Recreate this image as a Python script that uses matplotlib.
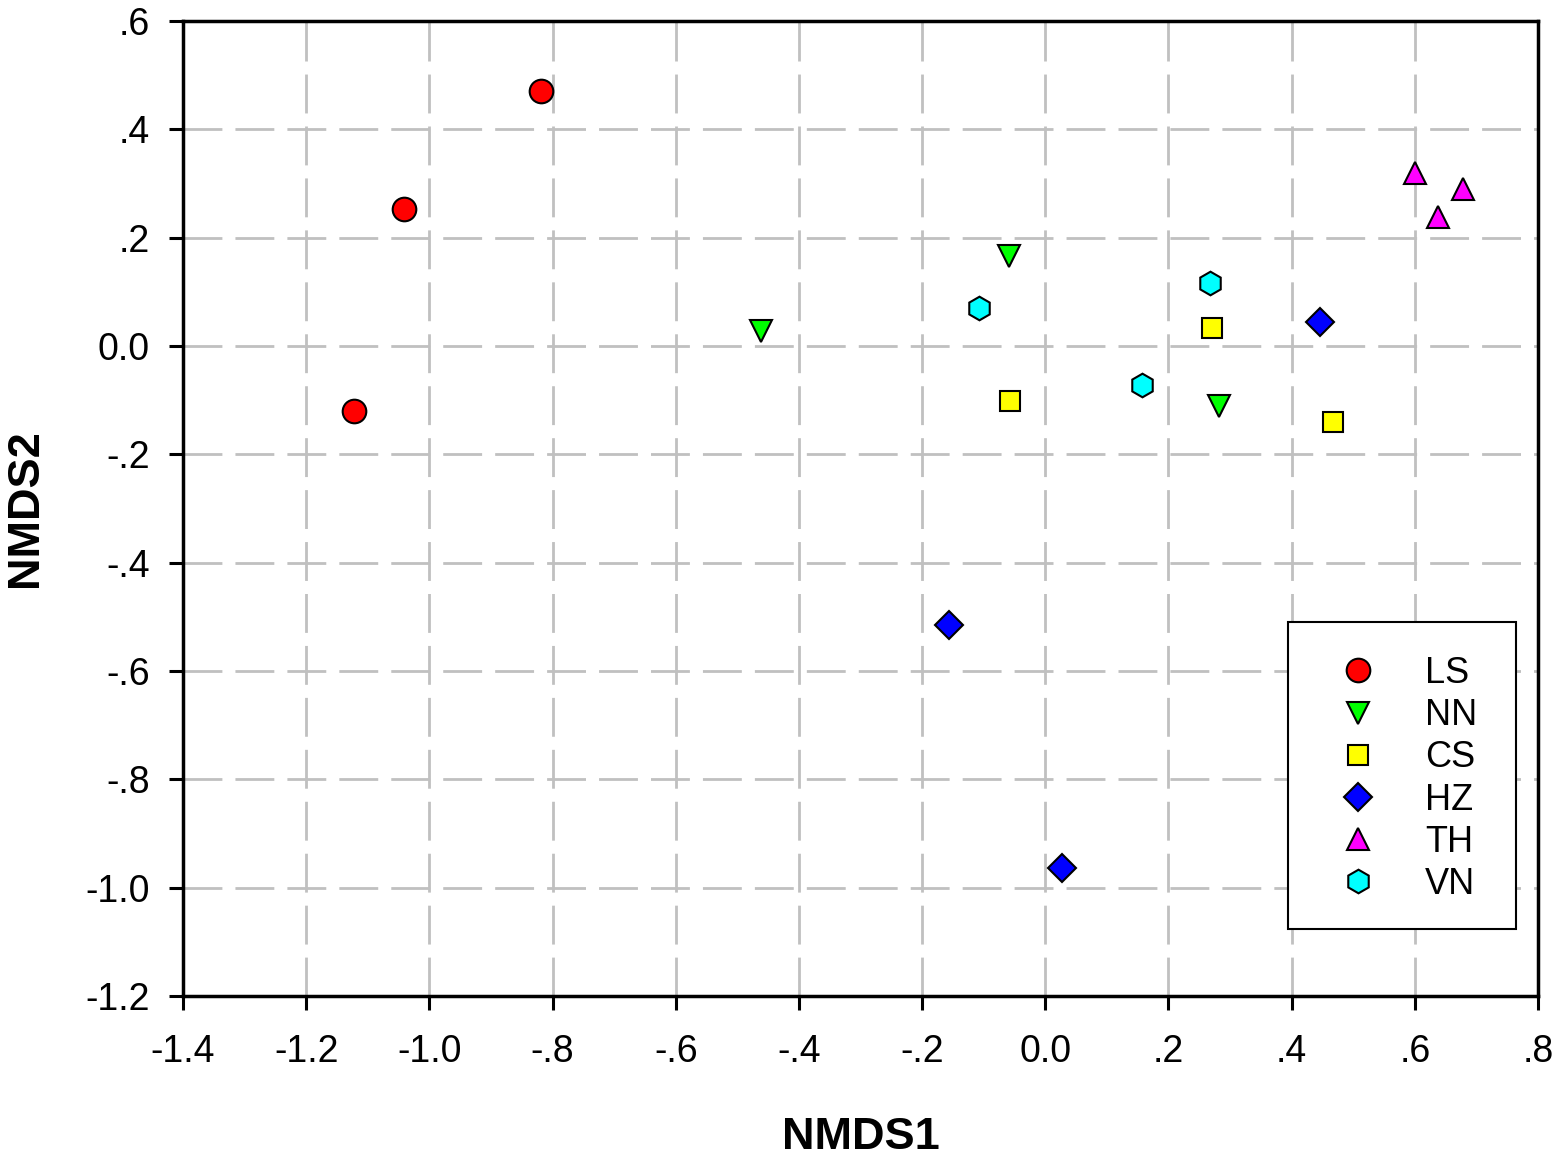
import matplotlib
matplotlib.use("Agg")
import matplotlib.pyplot as plt
from matplotlib.ticker import FixedLocator
from matplotlib.patches import Rectangle

plt.rcParams['font.family'] = ['Liberation Sans', 'DejaVu Sans']

groups = ["LS", "NN", "CS", "HZ", "TH", "VN"]
colors = ["#ff0000", "#00ff00", "#ffff00", "#0000ff", "#ff00ff", "#00ffff"]
markers = ["o", "v", "s", "D", "^", "h"]
msizes = [17, 16, 15, 14, 16, 17]

ls_x = [-1.122, -1.041, -0.819]
ls_y = [-0.120, 0.253, 0.471]
nn_x = [-0.462, -0.059, 0.282]
nn_y = [0.027, 0.166, -0.111]
cs_x = [-0.057, 0.271, 0.467]
cs_y = [-0.102, 0.033, -0.140]
hz_x = [-0.156, 0.027, 0.446]
hz_y = [-0.515, -0.964, 0.044]
th_x = [0.600, 0.638, 0.678]
th_y = [0.319, 0.238, 0.290]
vn_x = [-0.108, 0.267, 0.157]
vn_y = [0.070, 0.116, -0.072]

xs = [ls_x, nn_x, cs_x, hz_x, th_x, vn_x]
ys = [ls_y, nn_y, cs_y, hz_y, th_y, vn_y]

xticks = [-1.4, -1.2, -1.0, -0.8, -0.6, -0.4, -0.2, 0.0, 0.2, 0.4, 0.6, 0.8]
xticklabels = ["-1.4", "-1.2", "-1.0", "-.8", "-.6", "-.4", "-.2", "0.0", ".2", ".4", ".6", ".8"]
yticks = [-1.2, -1.0, -0.8, -0.6, -0.4, -0.2, 0.0, 0.2, 0.4, 0.6]
yticklabels = ["-1.2", "-1.0", "-.8", "-.6", "-.4", "-.2", "0.0", ".2", ".4", ".6"]

fig = plt.figure(figsize=(15.59, 11.55), dpi=100)
ax = fig.add_axes([183/1559, 1-996/1155, (1538-183)/1559, (996-21)/1155])

for g, c, m, s, x, y in zip(groups, colors, markers, msizes, xs, ys):
    ax.plot(x, y, linestyle='none', marker=m, markersize=s, markerfacecolor=c,
            markeredgecolor='black', markeredgewidth=1.5, label=g, zorder=3)

ax.set_xlim(-1.4, 0.8)
ax.set_ylim(-1.2, 0.6)
ax.xaxis.set_major_locator(FixedLocator(xticks))
ax.yaxis.set_major_locator(FixedLocator(yticks))
ax.set_xticklabels(xticklabels)
ax.set_yticklabels(yticklabels)
ax.tick_params(direction='out', length=10, width=2.2, labelsize=27,
               top=False, right=False)
ax.tick_params(axis='x', pad=17)
ax.tick_params(axis='y', pad=14)
for sp in ax.spines.values():
    sp.set_linewidth(2.5)

ax.grid(True, color='#c0c0c0', linestyle=(0, (14, 4.7)), linewidth=2.0, zorder=0)
ax.set_axisbelow(True)

ax.set_xlabel("NMDS1", fontsize=32.5, fontweight='bold', labelpad=34)
ax.set_ylabel("NMDS2", fontsize=32.5, fontweight='bold', labelpad=28)

# legend frame
frame = Rectangle((0.8155, 0.0687), 0.9838 - 0.8155, 0.3836 - 0.0687,
                  transform=ax.transAxes, facecolor='white', edgecolor='black',
                  linewidth=1.5, zorder=4)
ax.add_patch(frame)

leg = ax.legend(loc='upper left', bbox_to_anchor=(0.8406, 0.3487), fontsize=26,
                frameon=False, borderpad=0, labelspacing=0.2,
                handletextpad=0.86, handlelength=2.0, borderaxespad=0)
leg.set_zorder(5)

fig.savefig("out.png", dpi=100)
